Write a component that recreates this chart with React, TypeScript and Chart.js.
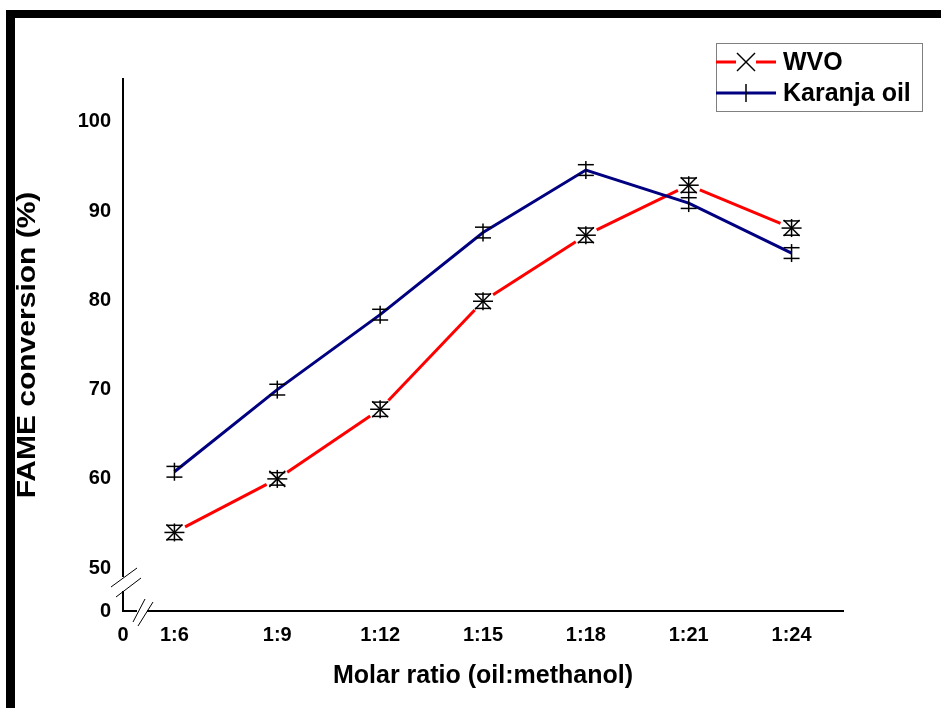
import React, { useEffect, useRef } from "react";
import { Chart, registerables } from "chart.js";

Chart.register(...registerables);

const categories = ["1:6", "1:9", "1:12", "1:15", "1:18", "1:21", "1:24"];
const wvoValues = [54.0, 60.0, 67.8, 79.9, 87.3, 92.9, 88.1];
const wvoErrors = [0.8, 0.7, 0.8, 0.8, 0.8, 0.8, 0.8];
const karanjaValues = [60.8, 70.0, 78.4, 87.6, 94.6, 90.9, 85.3];
const karanjaErrors = [0.6, 0.6, 0.6, 0.6, 0.6, 0.6, 0.6];
const yTickValues = [50, 60, 70, 80, 90, 100];
const Y_MIN = 45.2; // visual position of the broken-axis "0"
const Y_MAX = 104.8;
const X_MIN = -0.5;
const X_MAX = 6.5;
const Y_TITLE = "FAME conversion (%)";

const FONT = "'Liberation Sans', Arial, sans-serif";
const RED = "#ff0000";
const NAVY = "#000080";

const decorPlugin = {
  id: "decor",
  beforeDraw(chart: any) {
    const ctx = chart.ctx;
    ctx.save();
    ctx.fillStyle = "#ffffff";
    ctx.fillRect(0, 0, chart.width, chart.height);
    // outer frame (top and left edges visible)
    ctx.fillStyle = "#000000";
    ctx.fillRect(6, 10, chart.width - 6, 8);
    ctx.fillRect(6, 10, 9, chart.height - 10);
    ctx.restore();
  },
  beforeDatasetsDraw(chart: any) {
    // WVO line drawn with gaps around markers
    const ctx = chart.ctx;
    const meta = chart.getDatasetMeta(0);
    const pts = meta.data;
    ctx.save();
    ctx.strokeStyle = RED;
    ctx.lineWidth = 3;
    const gap = 12;
    for (let i = 0; i < pts.length - 1; i++) {
      const a = pts[i], b = pts[i + 1];
      const dx = b.x - a.x, dy = b.y - a.y;
      const len = Math.hypot(dx, dy);
      const ux = dx / len, uy = dy / len;
      ctx.beginPath();
      ctx.moveTo(a.x + ux * gap, a.y + uy * gap);
      ctx.lineTo(b.x - ux * gap, b.y - uy * gap);
      ctx.stroke();
    }
    ctx.restore();
  },
  afterDatasetsDraw(chart: any) {
    const ctx = chart.ctx;
    const yScale = chart.scales.y;
    ctx.save();
    ctx.strokeStyle = "#000000";
    ctx.lineWidth = 1.5;
    const line = (x1: number, y1: number, x2: number, y2: number) => {
      ctx.beginPath();
      ctx.moveTo(x1, y1);
      ctx.lineTo(x2, y2);
      ctx.stroke();
    };
    // WVO markers: star + error bars
    chart.getDatasetMeta(0).data.forEach((p: any, i: number) => {
      const top = yScale.getPixelForValue(wvoValues[i] + wvoErrors[i]);
      const bot = yScale.getPixelForValue(wvoValues[i] - wvoErrors[i]);
      const r = 8;
      line(p.x - r, p.y - r, p.x + r, p.y + r);
      line(p.x - r, p.y + r, p.x + r, p.y - r);
      line(p.x - 10, p.y, p.x + 10, p.y);
      line(p.x, Math.min(top, p.y - 9), p.x, Math.max(bot, p.y + 9));
      line(p.x - 8, top, p.x + 8, top);
      line(p.x - 8, bot, p.x + 8, bot);
    });
    // Karanja markers: vertical bar + error bars
    chart.getDatasetMeta(1).data.forEach((p: any, i: number) => {
      const top = yScale.getPixelForValue(karanjaValues[i] + karanjaErrors[i]);
      const bot = yScale.getPixelForValue(karanjaValues[i] - karanjaErrors[i]);
      line(p.x, Math.min(top, p.y - 9), p.x, Math.max(bot, p.y + 9));
      line(p.x - 8, top, p.x + 8, top);
      line(p.x - 8, bot, p.x + 8, bot);
    });
    ctx.restore();
  },
  afterDraw(chart: any) {
    const ctx = chart.ctx;
    const { left, top, bottom } = chart.chartArea;
    ctx.save();
    // axis breaks
    ctx.fillStyle = "#ffffff";
    ctx.fillRect(left - 3, bottom - 34, 6, 14);
    ctx.fillRect(left + 14, bottom - 3, 10, 6);
    ctx.strokeStyle = "#000000";
    ctx.lineWidth = 1;
    const line = (x1: number, y1: number, x2: number, y2: number) => {
      ctx.beginPath();
      ctx.moveTo(x1, y1);
      ctx.lineTo(x2, y2);
      ctx.stroke();
    };
    line(left - 12, bottom - 24, left + 14, bottom - 43);
    line(left - 7, bottom - 14, left + 18, bottom - 33);
    line(left + 10, bottom + 11, left + 22, bottom - 12);
    line(left + 15, bottom + 15, left + 30, bottom - 9);

    // y-axis title (stretched along its length, as in the original)
    ctx.save();
    ctx.translate(28, (top + bottom) / 2);
    ctx.rotate(-Math.PI / 2);
    ctx.scale(1.2, 1);
    ctx.fillStyle = "#000000";
    ctx.font = `bold 25px ${FONT}`;
    ctx.textAlign = "center";
    ctx.textBaseline = "middle";
    ctx.fillText(Y_TITLE, 0, 0);
    ctx.restore();

    // legend
    const bx = 716, by = 43, bw = 206, bh = 68;
    ctx.strokeStyle = "#808080";
    ctx.lineWidth = 1;
    ctx.strokeRect(bx + 0.5, by + 0.5, bw, bh);
    const y1 = 62, y2 = 93;
    ctx.lineWidth = 3;
    ctx.strokeStyle = RED;
    line(bx, y1, bx + 20, y1);
    line(bx + 40, y1, bx + 60, y1);
    ctx.strokeStyle = "#000000";
    ctx.lineWidth = 1.5;
    line(bx + 21, y1 - 9, bx + 39, y1 + 9);
    line(bx + 21, y1 + 9, bx + 39, y1 - 9);
    ctx.lineWidth = 3;
    ctx.strokeStyle = NAVY;
    line(bx, y2, bx + 60, y2);
    ctx.strokeStyle = "#000000";
    ctx.lineWidth = 1.5;
    line(bx + 30, y2 - 9, bx + 30, y2 + 9);
    ctx.fillStyle = "#000000";
    ctx.font = `bold 25px ${FONT}`;
    ctx.textBaseline = "middle";
    ctx.textAlign = "left";
    ctx.fillText("WVO", bx + 67, y1 + 1);
    ctx.fillText("Karanja oil", bx + 67, y2 + 1);
    ctx.restore();
  },
};

export default function App() {
  const ref = useRef<HTMLCanvasElement>(null);
  useEffect(() => {
    if (!ref.current) return;
    const chart = new Chart(ref.current, {
      type: "line",
      data: {
        datasets: [
          {
            label: "WVO",
            data: wvoValues.map((v, i) => ({ x: i, y: v })),
            borderColor: RED,
            showLine: false,
            pointRadius: 0,
          },
          {
            label: "Karanja oil",
            data: karanjaValues.map((v, i) => ({ x: i, y: v })),
            borderColor: NAVY,
            borderWidth: 3,
            pointRadius: 0,
            tension: 0,
          },
        ],
      },
      options: {
        responsive: false,
        animation: false,
        events: [],
        layout: { padding: { left: 0, top: 79, right: 98, bottom: 0 } },
        plugins: { legend: { display: false }, tooltip: { enabled: false } },
        scales: {
          x: {
            type: "linear",
            min: X_MIN,
            max: X_MAX,
            grid: { display: false, drawTicks: false },
            border: { display: true, color: "#000000", width: 2 },
            afterBuildTicks: (scale: any) => {
              scale.ticks = [X_MIN, ...categories.map((_, i) => i)].map((v) => ({ value: v }));
            },
            ticks: {
              padding: 12,
              maxRotation: 0,
              autoSkip: false,
              color: "#000000",
              font: { family: FONT, size: 20, weight: "bold" },
              callback: (v: any) => (v === X_MIN ? "0" : categories[v] ?? ""),
            },
            title: {
              display: true,
              text: "Molar ratio (oil:methanol)",
              color: "#000000",
              font: { family: FONT, size: 25, weight: "bold" },
              padding: { top: 0, bottom: 17 },
            },
            afterFit: (scale: any) => {
              scale.height = 97;
            },
          },
          y: {
            type: "linear",
            min: Y_MIN,
            max: Y_MAX,
            grid: { display: false, drawTicks: false },
            border: { display: true, color: "#000000", width: 2 },
            afterBuildTicks: (scale: any) => {
              scale.ticks = [Y_MIN, ...yTickValues].map((v) => ({ value: v }));
            },
            ticks: {
              padding: 12,
              autoSkip: false,
              color: "#000000",
              font: { family: FONT, size: 20, weight: "bold" },
              callback: (v: any) => (v === Y_MIN ? "0" : String(v)),
            },
            title: { display: false },
            afterFit: (scale: any) => {
              scale.width = 123;
            },
          },
        },
      },
      plugins: [decorPlugin],
    });
    return () => chart.destroy();
  }, []);
  return (
    <div style={{ position: "fixed", left: 0, top: 0, width: 941, height: 708, background: "#fff" }}>
      <canvas ref={ref} width={941} height={708} style={{ width: 941, height: 708, display: "block" }} />
    </div>
  );
}
